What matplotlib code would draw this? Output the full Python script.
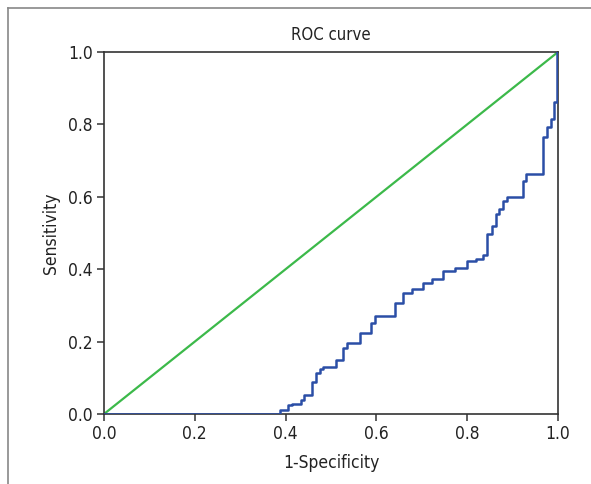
import matplotlib
matplotlib.use("Agg")
import matplotlib.pyplot as plt
from matplotlib.lines import Line2D

plt.rcParams['font.family'] = ['DejaVu Sans']
plt.rcParams['font.stretch'] = 'condensed'

# ROC curve points (1-specificity, sensitivity)
fpr = [0.0, 0.388, 0.388, 0.406, 0.415, 0.434, 0.441, 0.459, 0.467, 0.476,
       0.483, 0.511, 0.527, 0.536, 0.564, 0.588, 0.598, 0.642, 0.659, 0.678,
       0.703, 0.722, 0.747, 0.773, 0.800, 0.819, 0.835, 0.844, 0.854, 0.863,
       0.870, 0.878, 0.887, 0.924, 0.930, 0.966, 0.975, 0.984, 0.991, 0.998]
tpr = [0.0, 0.0, 0.011, 0.024, 0.028, 0.039, 0.052, 0.088, 0.112, 0.124,
       0.131, 0.148, 0.183, 0.195, 0.223, 0.252, 0.271, 0.307, 0.335, 0.345,
       0.363, 0.372, 0.396, 0.403, 0.423, 0.427, 0.440, 0.496, 0.520, 0.552,
       0.565, 0.588, 0.599, 0.645, 0.663, 0.764, 0.792, 0.816, 0.863, 1.0]

ref_x = [0.0, 1.0]
ref_y = [0.0, 1.0]
ticks = [0.0, 0.2, 0.4, 0.6, 0.8, 1.0]

fig = plt.figure(figsize=(5.91, 4.84), dpi=100)
ax = fig.add_axes([104 / 591, 1 - 414 / 484, 454 / 591, 362 / 484])

ax.plot(ref_x, ref_y, color='#3cb94a', lw=1.6, zorder=2)
ax.plot(fpr, tpr, color='#2b4ea6', lw=1.8, drawstyle='steps-post', zorder=3)

ax.set_xlim(0, 1)
ax.set_ylim(0, 1)
ax.set_xticks(ticks)
ax.set_yticks(ticks)
ax.set_xticklabels([f'{t:.1f}' for t in ticks])
ax.set_yticklabels([f'{t:.1f}' for t in ticks])
ax.tick_params(direction='out', length=5, width=1.1, color='#333333',
               labelsize=12.5, labelcolor='#222222', pad=3)
for s in ax.spines.values():
    s.set_color('#333333')
    s.set_linewidth(1.2)

ax.set_title('ROC curve', fontsize=12, color='#222222', pad=9)
ax.set_xlabel('1-Specificity', fontsize=12.5, color='#222222', labelpad=8)
ax.set_ylabel('Sensitivity', fontsize=12.5, color='#222222', labelpad=6)

# outer frame lines (left and top)
fig.add_artist(Line2D([8 / 591, 8 / 591], [0, 1 - 8 / 484],
                      transform=fig.transFigure, color='#888888', lw=1.2))
fig.add_artist(Line2D([8 / 591, 1], [1 - 8 / 484, 1 - 8 / 484],
                      transform=fig.transFigure, color='#888888', lw=1.2))

fig.savefig('out.png', dpi=100)
